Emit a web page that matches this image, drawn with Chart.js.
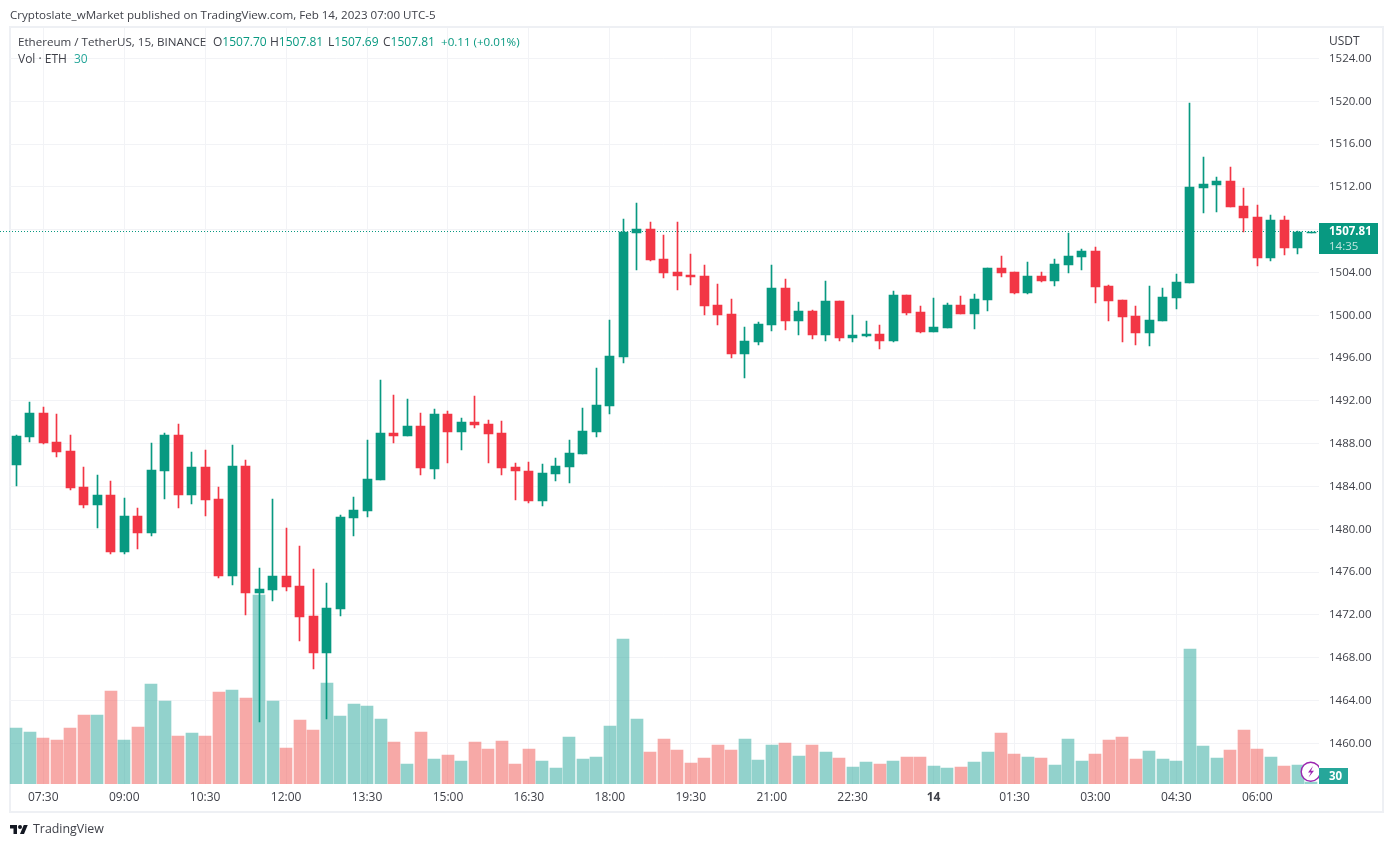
<!DOCTYPE html>
<html>
<head>
<meta charset="utf-8">
<title>ETH/USDT 15m</title>
<script src="https://cdn.jsdelivr.net/npm/chart.js@4"></script>
<style>
	html, body { margin: 0; padding: 0; background: #fff; }
	body { width: 1393px; height: 847px; position: relative; overflow: hidden; font-family: "Open Sans", sans-serif; font-size: 12px; color: #3f4149; }
	#frame { position: absolute; left: 9px; top: 26px; width: 1371px; height: 783px; border: 2px solid #eef0f4; }
	canvas { position: absolute; left: 0; top: 0; }
	.txt { position: absolute; white-space: nowrap; line-height: 16px; }
	.up { color: #089981; }
</style>
</head>
<body>
<div id="frame"></div>
<canvas id="chart" width="1393" height="847"></canvas>
<div class="txt" style="left:10px;top:7px;font-size:11.6px;">Cryptoslate_wMarket published on TradingView.com, Feb 14, 2023 07:00 UTC-5</div>
<div class="txt" style="left:18px;top:34px;font-size:11.6px;">Ethereum / TetherUS, 15, BINANCE</div>
<div class="txt" style="left:213px;top:34px;">O<span class="up">1507.70</span></div>
<div class="txt" style="left:270px;top:34px;">H<span class="up">1507.81</span></div>
<div class="txt" style="left:328px;top:34px;">L<span class="up">1507.69</span></div>
<div class="txt" style="left:383px;top:34px;">C<span class="up">1507.81</span></div>
<div class="txt up" style="left:441px;top:34px;font-size:11.6px;">+0.11 (+0.01%)</div>
<div class="txt" style="left:18px;top:51px;">Vol · ETH</div>
<div class="txt" style="left:74px;top:51px;color:#26a69a;">30</div>
<div class="txt" style="left:1329px;top:33px;">USDT</div>
<svg style="position:absolute;left:1300px;top:760px;" width="19" height="24" viewBox="0 0 19 24">
	<circle cx="10.7" cy="11.7" r="9.5" fill="#fff" stroke="#9c27b0" stroke-width="1.4"/>
	<path d="M13 6 L8 12.5 H11 L8.5 17.5 L14 10.8 H11 Z" fill="#9c27b0"/>
</svg>
<svg style="position:absolute;left:10px;top:823px;" width="18" height="14" viewBox="0 0 36 28">
	<path d="M14 22H7V11H0V4h14v18zM28 22h-8l7.5-18h8L28 22z" fill="#131722"/>
	<circle cx="20" cy="8" r="4" fill="#131722"/>
</svg>
<div class="txt" style="left:33px;top:821px;font-size:12.4px;">TradingView</div>
<script>
var categories = [
	"07:00","07:15","07:30","07:45","08:00","08:15","08:30","08:45","09:00","09:15","09:30","09:45",
	"10:00","10:15","10:30","10:45","11:00","11:15","11:30","11:45","12:00","12:15","12:30","12:45",
	"13:00","13:15","13:30","13:45","14:00","14:15","14:30","14:45","15:00","15:15","15:30","15:45",
	"16:00","16:15","16:30","16:45","17:00","17:15","17:30","17:45","18:00","18:15","18:30","18:45",
	"19:00","19:15","19:30","19:45","20:00","20:15","20:30","20:45","21:00","21:15","21:30","21:45",
	"22:00","22:15","22:30","22:45","23:00","23:15","23:30","23:45","14","00:15","00:30","00:45",
	"01:00","01:15","01:30","01:45","02:00","02:15","02:30","02:45","03:00","03:15","03:30","03:45",
	"04:00","04:15","04:30","04:45","05:00","05:15","05:30","05:45","06:00","06:15","06:30","06:45",
	"07:00b"
];
var xTickLabels = ["07:30","09:00","10:30","12:00","13:30","15:00","16:30","18:00","19:30","21:00","22:30","14","01:30","03:00","04:30","06:00"];

var openPrices = [
	1486.01,1488.63,1490.87,1488.16,1487.32,1483.96,1482.27,1483.21,1477.88,1481.25,1479.66,1485.45,
	1488.82,1483.21,1485.82,1482.83,1475.64,1485.92,1474.05,1474.33,1475.64,1474.70,1471.90,1468.44,
	1472.55,1481.06,1481.71,1484.61,1489.00,1488.72,1489.65,1485.64,1490.78,1489.09,1490.03,1489.84,
	1489.00,1485.82,1485.45,1482.64,1485.17,1485.82,1487.04,1489.09,1491.52,1496.10,1507.69,1508.07,
	1505.26,1504.05,1503.77,1503.68,1500.97,1500.13,1496.39,1497.51,1499.10,1502.56,1499.47,1500.41,
	1498.16,1501.34,1497.88,1498.07,1498.26,1497.60,1501.90,1500.31,1498.44,1498.82,1500.97,1500.13,
	1501.43,1504.42,1504.05,1502.09,1503.68,1503.21,1504.70,1505.45,1506.01,1502.74,1501.43,1499.94,
	1498.35,1499.47,1501.62,1503.02,1511.90,1512.18,1512.56,1510.22,1509.19,1505.36,1508.91,1506.29,
	1507.70
];
var highPrices = [
	1488.82,1491.90,1491.43,1490.78,1488.82,1485.82,1485.08,1484.52,1482.93,1481.99,1488.07,1489.00,
	1489.84,1487.23,1487.41,1483.96,1487.88,1486.48,1476.39,1482.83,1480.12,1478.44,1476.29,1474.98,
	1481.34,1483.02,1488.35,1493.95,1492.55,1492.18,1490.87,1491.24,1491.06,1490.40,1492.46,1490.21,
	1490.12,1486.20,1486.29,1486.10,1486.66,1488.35,1491.34,1495.07,1499.56,1509.00,1510.50,1508.72,
	1507.50,1508.72,1505.73,1504.71,1502.93,1501.53,1498.91,1499.38,1504.71,1503.40,1501.25,1500.50,
	1503.21,1501.34,1500.03,1499.47,1499.10,1502.28,1501.90,1500.87,1501.62,1501.15,1501.81,1501.99,
	1504.42,1505.55,1504.05,1504.99,1504.05,1505.27,1507.70,1506.20,1506.39,1502.84,1501.43,1500.87,
	1502.74,1502.56,1503.86,1519.85,1514.80,1512.93,1513.86,1511.90,1510.31,1509.38,1509.28,1507.88,
	1507.81
];
var lowPrices = [
	1484.05,1488.16,1487.97,1486.76,1483.68,1481.99,1480.12,1477.69,1477.69,1478.16,1479.38,1482.83,
	1481.99,1482.37,1481.25,1475.45,1474.80,1471.99,1461.99,1473.30,1474.24,1469.56,1466.95,1462.27,
	1471.90,1479.38,1481.15,1484.61,1488.07,1488.72,1485.07,1484.70,1486.20,1487.41,1489.47,1486.20,
	1485.07,1482.74,1482.46,1482.18,1484.51,1484.33,1487.04,1488.63,1490.78,1495.54,1504.23,1505.07,
	1503.49,1502.36,1502.83,1500.03,1499.10,1496.01,1494.14,1497.23,1498.54,1498.63,1498.16,1497.79,
	1497.60,1497.60,1497.51,1497.98,1496.85,1497.51,1500.03,1498.35,1498.44,1498.82,1500.13,1498.72,
	1500.41,1503.58,1501.99,1501.99,1503.12,1502.74,1503.96,1504.24,1501.15,1499.47,1497.51,1497.23,
	1497.13,1499.47,1500.59,1503.02,1509.56,1509.66,1510.13,1507.79,1504.61,1505.08,1505.64,1505.73,
	1507.69
];
var closePrices = [
	1488.72,1490.87,1488.07,1487.23,1483.86,1482.27,1483.21,1477.88,1481.25,1479.66,1485.54,1488.82,
	1483.21,1485.82,1482.74,1475.64,1485.92,1474.05,1474.42,1475.64,1474.61,1471.81,1468.44,1472.65,
	1481.15,1481.81,1484.70,1489.00,1488.72,1489.65,1485.73,1490.78,1489.09,1490.03,1489.75,1488.91,
	1485.73,1485.45,1482.64,1485.26,1485.92,1487.13,1489.19,1491.62,1496.20,1507.78,1508.07,1505.17,
	1503.95,1503.67,1503.58,1500.87,1500.03,1496.39,1497.60,1499.19,1502.56,1499.47,1500.41,1498.16,
	1501.34,1497.88,1498.16,1498.26,1497.60,1501.90,1500.22,1498.44,1498.91,1500.97,1500.13,1501.53,
	1504.42,1503.96,1502.09,1503.68,1503.21,1504.80,1505.55,1506.01,1502.65,1501.34,1499.85,1498.35,
	1499.56,1501.71,1503.12,1511.99,1512.27,1512.56,1510.13,1509.10,1505.36,1508.91,1506.29,1507.79,
	1507.81
];
var volumes = [
	840,780,690,660,840,1035,1035,1395,660,855,1500,1245,
	720,765,720,1380,1410,1290,2835,1245,540,960,810,1515,
	1020,1200,1170,975,630,300,780,375,435,345,630,525,
	645,300,525,345,240,705,375,405,870,2175,975,480,
	675,510,315,390,585,510,675,360,585,615,420,585,
	480,390,255,330,300,345,405,405,270,240,255,330,
	480,765,450,405,390,285,675,345,450,660,705,375,
	495,375,345,2025,570,390,510,810,525,405,270,285,
	30
];
var lastPrice = 1507.81;
var lastCountdown = "14:35";
var lastVolume = "30";

var upColor = "#089981", downColor = "#f23645";
var upVol = "rgba(38,166,154,0.5)", downVol = "rgba(239,83,80,0.5)";
var gridColor = "#f2f3f6";
var textColor = "#3f4149";
var fontName = '"Open Sans", sans-serif';

var candleColor = closePrices.map(function(c, i){ return c >= openPrices[i] ? upColor : downColor; });
var volColor = closePrices.map(function(c, i){ return c >= openPrices[i] ? upVol : downVol; });

// keeps candles on whole pixels like the original
var snapPlugin = {
	id: "snap",
	beforeDatasetsDraw: function(chart){
		chart.data.datasets.forEach(function(ds, n){
			var w = ds.barThickness;
			chart.getDatasetMeta(n).data.forEach(function(el){
				el.x = Math.round(el.x - w / 2) + w / 2;
				el.y = Math.round(el.y);
				el.base = Math.round(el.base);
				if (el.y === el.base) el.y -= 1;
			});
		});
	}
};

var lastPricePlugin = {
	id: "lastPrice",
	beforeDatasetsDraw: function(chart){
		var c = chart.ctx, a = chart.chartArea;
		var y = Math.round(chart.scales.y.getPixelForValue(lastPrice)) - 0.5;
		c.save();
		c.strokeStyle = upColor;
		c.lineWidth = 1;
		c.setLineDash([1, 2]);
		c.beginPath();
		c.moveTo(0, y);
		c.lineTo(a.right + 1, y);
		c.stroke();
		c.restore();
	},
	afterDraw: function(chart){
		var c = chart.ctx, a = chart.chartArea;
		var x = a.right + 1;
		var y = Math.round(chart.scales.y.getPixelForValue(lastPrice));
		c.save();
		c.fillStyle = upColor;
		c.fillRect(x, y - 9, 59, 31);
		c.textBaseline = "middle";
		c.font = "bold 11.5px " + fontName;
		c.fillStyle = "#fff";
		c.fillText(lastPrice.toFixed(2), x + 10, y);
		c.font = "11.5px " + fontName;
		c.fillStyle = "rgba(255,255,255,0.75)";
		c.fillText(lastCountdown, x + 10, y + 15);

		c.fillStyle = "#26a69a";
		c.fillRect(x, a.bottom - 16, 29, 16);
		c.font = "bold 11.5px " + fontName;
		c.fillStyle = "#fff";
		c.fillText(lastVolume, x + 10, a.bottom - 7);
		c.restore();
	}
};

new Chart(document.getElementById("chart"), {
	type: "bar",
	data: {
		labels: categories,
		datasets: [
			{
				label: "Vol",
				data: volumes,
				yAxisID: "yVol",
				backgroundColor: volColor,
				barThickness: 12,
				grouped: false,
				order: 3
			},
			{
				label: "Wick",
				data: lowPrices.map(function(l, i){ return [l, highPrices[i]]; }),
				yAxisID: "y",
				backgroundColor: candleColor,
				barThickness: 1,
				grouped: false,
				order: 2
			},
			{
				label: "Body",
				data: openPrices.map(function(o, i){ return [o, closePrices[i]]; }),
				yAxisID: "y",
				backgroundColor: candleColor,
				barThickness: 9,
				grouped: false,
				order: 1
			}
		]
	},
	plugins: [lastPricePlugin, snapPlugin],
	options: {
		responsive: false,
		animation: false,
		events: [],
		layout: { padding: { left: 9.56, top: 28, right: 10, bottom: 35 } },
		plugins: { legend: { display: false }, tooltip: { enabled: false } },
		scales: {
			x: {
				type: "category",
				offset: true,
				border: { display: false },
				grid: { offset: false, color: gridColor, drawTicks: false },
				afterBuildTicks: function(axis){
					axis.ticks = axis.ticks.filter(function(t){ return xTickLabels.indexOf(categories[t.value]) >= 0; });
				},
				afterFit: function(axis){ axis.height = 28; },
				ticks: {
					autoSkip: false,
					maxRotation: 0,
					padding: 6,
					color: textColor,
					font: function(ctx){
						return { family: fontName, size: 12, weight: ctx.tick && ctx.tick.label === "14" ? "bold" : "normal" };
					}
				}
			},
			y: {
				position: "right",
				min: 1456.2,
				max: 1526.85,
				border: { display: false },
				grid: { color: gridColor, tickLength: 1 },
				afterFit: function(axis){ axis.width = 65; },
				ticks: {
					stepSize: 4,
					includeBounds: false,
					padding: 10,
					color: textColor,
					font: { family: fontName, size: 11.5 },
					callback: function(v){ return v.toFixed(2); }
				}
			},
			yVol: {
				display: false,
				min: 0,
				max: 11340
			}
		}
	}
});
</script>
</body>
</html>
